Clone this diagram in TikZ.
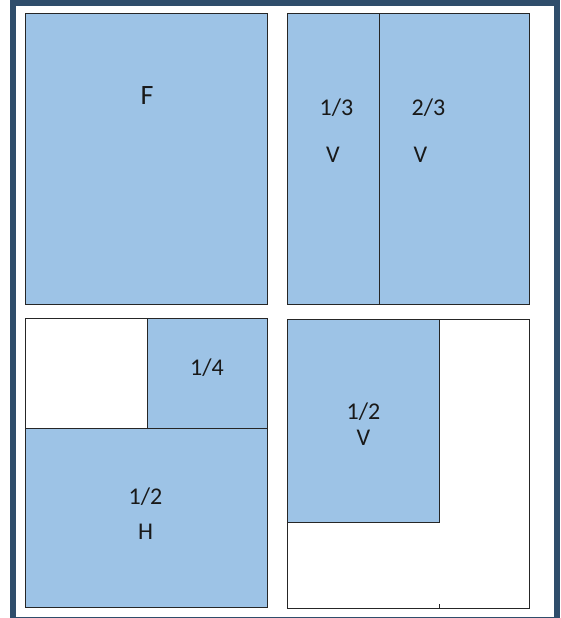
\documentclass[tikz,border=0pt]{standalone}
\usepackage{fontspec}
\setmainfont{Carlito}
\usepackage{xcolor}
\definecolor{paneblue}{RGB}{157,195,230}
\definecolor{framecol}{RGB}{47,77,107}
\tikzset{
  pane/.style={draw=black!85, line width=1pt},
  lbl/.style={font=\fontsize{24}{28}\selectfont, text=black!90, inner sep=0pt},
  biglbl/.style={lbl, font=\fontsize{28}{32}\selectfont}
}

\begin{document}
\begin{tikzpicture}[x=1pt, y=-1pt]
  \useasboundingbox (0,0) rectangle (561,618);
  % outer frame
  \draw[framecol, line width=6pt] (13,3.5) rectangle (557,620);

  % top left
  \draw[pane, fill=paneblue] (25,14) rectangle (267,304);
  \node[biglbl] (f) at (147,96) {F};

  % top right
  \draw[pane, fill=paneblue] (287,14) rectangle (529,304);
  \draw[pane] (379,14) -- (379,304);
  \node[lbl] (third) at (336.5,108) {1/3};
  \node[lbl] (twothird) at (428.5,108) {2/3};
  \node[lbl] (v1) at (333,155) {V};
  \node[lbl] (v2) at (420.5,155) {V};

  % bottom left
  \draw[pane, fill=white] (25,318) rectangle (267,607);
  \draw[pane, fill=paneblue] (147,318) rectangle (267,428);
  \draw[pane, fill=paneblue] (25,428) rectangle (267,607);
  \node[lbl] (quarter) at (207,368) {1/4};
  \node[lbl] (halfh) at (145.5,497) {1/2};
  \node[lbl] (h) at (145.5,531.5) {H};

  % bottom right
  \draw[pane, fill=white] (287,319) rectangle (529,608);
  \draw[pane, fill=paneblue] (287,319) rectangle (439,522);
  \draw[pane] (439,604) -- (439,608);
  \node[lbl] (halfv) at (363.5,411.5) {1/2};
  \node[lbl] (v3) at (363.5,437.5) {V};
\end{tikzpicture}
\end{document}
